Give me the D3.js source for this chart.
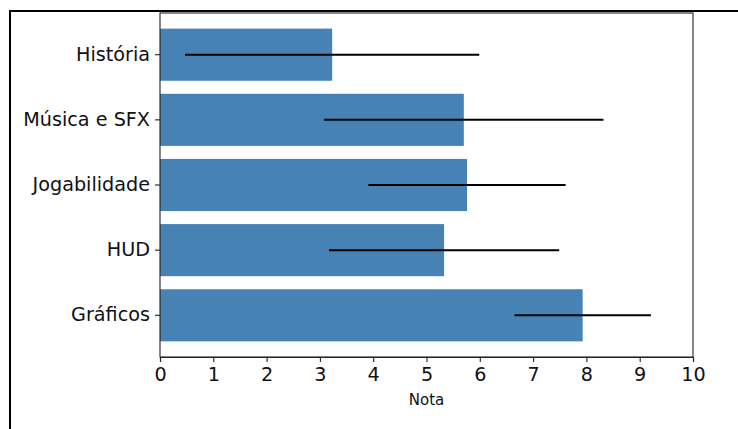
<!DOCTYPE html>
<html>
<head>
<meta charset="utf-8">
<script src="https://d3js.org/d3.v7.min.js"></script>
<style>
  body { margin: 0; background: #fff; }
  svg { display: block; font-family: "DejaVu Sans", sans-serif; }
  .axis path, .axis line { stroke: #222; stroke-width: 1.1; }
  .axis text { fill: #111; font-size: 19.2px; font-family: "DejaVu Sans", sans-serif; }
</style>
</head>
<body>
<svg width="738" height="429"></svg>
<script>

// categories, top to bottom
var categories = ["História", "Música e SFX", "Jogabilidade", "HUD", "Gráficos"];
var means = [3.23, 5.70, 5.76, 5.33, 7.93];
var errors = [2.76, 2.62, 1.85, 2.16, 1.28];
var xTicks = [0, 1, 2, 3, 4, 5, 6, 7, 8, 9, 10];

var data = categories.map(function(c, i) {
  return {name: c, mean: means[i], err: errors[i]};
});

var svg = d3.select("svg"),
    margin = {top: 13, right: 45, bottom: 72, left: 160},
    width = 738 - margin.left - margin.right,
    height = 429 - margin.top - margin.bottom;

// outer frame (only top and left edges visible)
svg.append("rect")
    .attr("x", 10)
    .attr("y", 11)
    .attr("width", 800)
    .attr("height", 500)
    .attr("fill", "none")
    .attr("stroke", "#000")
    .attr("stroke-width", 2);

var x = d3.scaleLinear()
    .domain([0, 10])
    .range([0, width]);

var y = d3.scaleBand()
    .domain(categories)
    .range([0, height])
    .paddingInner(0.2)
    .paddingOuter(0.24);

var g = svg.append("g")
    .attr("transform", "translate(" + margin.left + "," + margin.top + ")");

g.selectAll(".bar")
    .data(data)
  .enter().append("rect")
    .attr("class", "bar")
    .attr("x", x(0))
    .attr("y", function(d) { return y(d.name); })
    .attr("width", function(d) { return x(d.mean) - x(0); })
    .attr("height", y.bandwidth())
    .attr("fill", "#4682b4");

g.selectAll(".err")
    .data(data)
  .enter().append("line")
    .attr("class", "err")
    .attr("x1", function(d) { return x(d.mean - d.err); })
    .attr("x2", function(d) { return x(d.mean + d.err); })
    .attr("y1", function(d) { return y(d.name) + y.bandwidth() / 2; })
    .attr("y2", function(d) { return y(d.name) + y.bandwidth() / 2; })
    .attr("stroke", "#000")
    .attr("stroke-width", 2);

// frame of the axes
g.append("rect")
    .attr("width", width)
    .attr("height", height)
    .attr("fill", "none")
    .attr("stroke", "#222")
    .attr("stroke-width", 1.1);

g.append("g")
    .attr("class", "axis axis--x")
    .attr("transform", "translate(0," + height + ")")
    .call(d3.axisBottom(x).tickValues(xTicks).tickSize(5).tickPadding(4).tickFormat(d3.format("d")))
    .call(function(a) { a.selectAll("text").attr("dy", "0.72em").attr("y", 10); });

g.append("g")
    .attr("class", "axis axis--y")
    .call(d3.axisLeft(y).tickSize(5).tickPadding(5))
    .call(function(a) { a.select(".domain").remove(); });

g.append("text")
    .attr("x", width / 2)
    .attr("y", height + 48)
    .attr("text-anchor", "middle")
    .style("font-size", "15px")
    .attr("fill", "#111")
    .text("Nota");

</script>
</body>
</html>
